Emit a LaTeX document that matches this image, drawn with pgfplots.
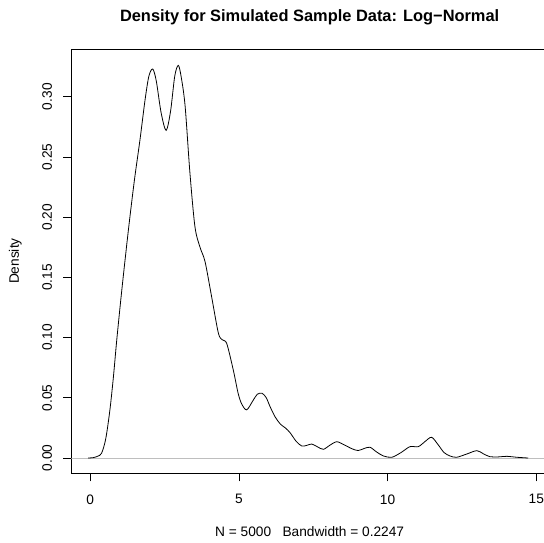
\documentclass[border=0pt]{standalone}
\usepackage{pgfplots}
\pgfplotsset{compat=1.18}
\usepackage{fontspec}
\setmainfont{Liberation Sans}
\begin{document}
\fontsize{13.7bp}{16bp}\selectfont
\begin{tikzpicture}
\begin{axis}[
  scale only axis,
  width=476.7bp, height=424.3bp,
  xmin=-0.639, xmax=15.395,
  ymin=-0.0127, ymax=0.3396,
  axis line style={line width=0.8bp, black},
  tick style={line width=0.8bp, black},
  tick align=outside,
  tick pos=left,
  major tick length=8bp,
  xtick={0,5,10,15},
  ytick={0,0.05,0.10,0.15,0.20,0.25,0.30},
  /pgf/number format/assume math mode=true,
  yticklabel style={/pgf/number format/.cd, fixed, fixed zerofill, precision=2, /tikz/.cd, rotate=90, anchor=south, inner xsep=0pt, inner ysep=11bp},
  xticklabel style={anchor=north, inner xsep=0pt, inner ysep=13bp},
  scaled y ticks=false,
  title={\fontsize{16.4bp}{19bp}\selectfont\bfseries Density for Simulated Sample Data: Log\textminus Normal},
  title style={at={(axis description cs:0.5,1)}, anchor=center, yshift=26bp, inner sep=0pt},
  xlabel={N = 5000\hspace{0.834em}Bandwidth = 0.2247},
  xlabel style={at={(axis description cs:0.5,0)}, anchor=center, yshift=-58.5bp, inner sep=0pt},
  ylabel={Density},
  ylabel style={at={(axis description cs:0,0.5)}, anchor=center, yshift=56bp, inner sep=0pt},
]
\addplot[draw={rgb,255:red,190;green,190;blue,190}, line width=0.6bp] coordinates {(-1,0) (16,0)};
\addplot[black, line width=0.8bp, smooth, tension=0.5] table {
x y
-0.07 0
0.1 0.0003
0.25 0.0015
0.38 0.004
0.52 0.016
0.66 0.040
0.78 0.068
0.89 0.098
1.06 0.1395
1.28 0.189
1.48 0.230
1.67 0.264
1.84 0.297
1.97 0.317
2.10 0.323
2.22 0.313
2.38 0.287
2.55 0.272
2.70 0.288
2.84 0.317
2.96 0.326
3.06 0.316
3.19 0.292
3.35 0.237
3.52 0.192
3.69 0.175
3.86 0.163
4.08 0.134
4.31 0.1035
4.45 0.098
4.59 0.095
4.81 0.073
4.97 0.054
5.09 0.045
5.26 0.040
5.48 0.048
5.62 0.053
5.78 0.0537
5.92 0.050
6.04 0.043
6.22 0.034
6.40 0.028
6.56 0.025
6.72 0.021
6.92 0.014
7.11 0.010
7.28 0.0105
7.45 0.0116
7.64 0.0093
7.84 0.0072
8.05 0.0105
8.29 0.0135
8.55 0.0108
8.80 0.0077
9.01 0.0062
9.22 0.0080
9.41 0.0089
9.63 0.0050
9.86 0.0017
10.14 0.0006
10.45 0.0045
10.75 0.0094
11.03 0.0094
11.25 0.0135
11.48 0.0172
11.70 0.011
11.90 0.0045
12.10 0.0017
12.32 0.0006
12.65 0.0032
13.00 0.0061
13.22 0.0035
13.44 0.0011
13.72 0.0009
14.01 0.0014
14.35 0.0006
14.73 0
};
\coordinate (bl) at (rel axis cs:0,0);
\end{axis}
\pgfresetboundingbox
\path[use as bounding box] (bl) ++(-71.3bp,-69.7bp) rectangle ++(544bp,543bp);
\end{tikzpicture}
\end{document}
